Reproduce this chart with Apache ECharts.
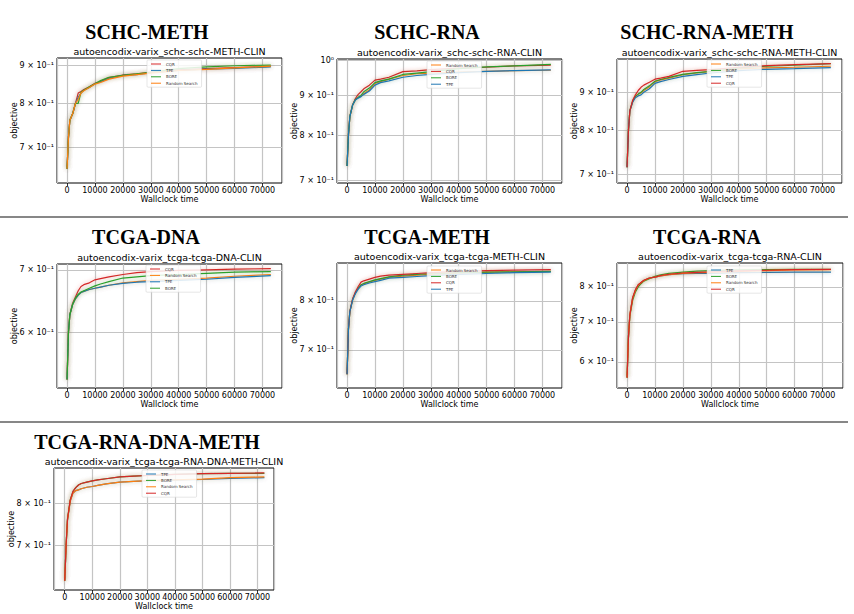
<!DOCTYPE html>
<html>
<head>
<meta charset="utf-8">
<script src="https://cdn.jsdelivr.net/npm/echarts@6/dist/echarts.min.js"></script>
<style>
    html, body {margin: 0; padding: 0; background: #fff;}
    #chart {width: 854px; height: 614px;}
</style>
</head>
<body>
<div id="chart"></div>
<script>
// wallclock time (s)
const time = [0, 500, 1000, 2000, 3000, 4000, 5000, 6000, 8000, 10000, 12000, 15000, 20000, 25000, 30000, 40000, 50000, 60000, 73000];
const timeShort = [0, 500, 1000, 2000, 3000, 4000, 5000, 6000, 8000, 10000, 12000, 15000, 20000, 25000, 30000, 40000, 50000, 60000, 72500];

// SCHC-METH
const schcMethCqr  = [0.655, 0.72, 0.76, 0.775, 0.80, 0.826, 0.830, 0.835, 0.842, 0.851, 0.856, 0.866, 0.873, 0.876, 0.881, 0.887, 0.890, 0.893, 0.896];
const schcMethTpe  = [0.655, 0.72, 0.76, 0.775, 0.80, 0.815, 0.826, 0.833, 0.840, 0.850, 0.855, 0.864, 0.872, 0.874, 0.879, 0.885, 0.889, 0.891, 0.895];
const schcMethBore = [0.655, 0.72, 0.76, 0.775, 0.80, 0.800, 0.828, 0.833, 0.842, 0.850, 0.858, 0.867, 0.872, 0.876, 0.880, 0.890, 0.895, 0.898, 0.900];
const schcMethRs   = [0.655, 0.72, 0.76, 0.775, 0.80, 0.810, 0.826, 0.832, 0.840, 0.849, 0.853, 0.862, 0.870, 0.874, 0.878, 0.885, 0.888, 0.892, 0.897];
const schcMethTicks = [0.7, 0.8, 0.9];

// SCHC-RNA
const schcRnaRs   = [0.73, 0.80, 0.845, 0.875, 0.889, 0.895, 0.898, 0.905, 0.915, 0.933, 0.938, 0.945, 0.955, 0.960, 0.962, 0.965, 0.967, 0.969, 0.970];
const schcRnaCqr  = [0.73, 0.80, 0.845, 0.875, 0.892, 0.903, 0.910, 0.918, 0.928, 0.942, 0.945, 0.950, 0.966, 0.968, 0.972, 0.976, 0.979, 0.983, 0.985];
const schcRnaBore = [0.73, 0.80, 0.845, 0.875, 0.889, 0.895, 0.900, 0.910, 0.920, 0.935, 0.940, 0.945, 0.958, 0.962, 0.966, 0.975, 0.980, 0.983, 0.987];
const schcRnaTpe  = [0.73, 0.80, 0.845, 0.875, 0.888, 0.893, 0.897, 0.903, 0.912, 0.928, 0.935, 0.940, 0.950, 0.955, 0.958, 0.963, 0.967, 0.969, 0.971];
const schcRnaTicks = [0.7, 0.8, 0.9, 1.0];

// SCHC-RNA-METH
const schcRnaMethRs   = [0.715, 0.80, 0.850, 0.875, 0.889, 0.895, 0.898, 0.905, 0.915, 0.930, 0.935, 0.940, 0.950, 0.955, 0.960, 0.967, 0.970, 0.972, 0.975];
const schcRnaMethBore = [0.715, 0.80, 0.850, 0.875, 0.889, 0.895, 0.900, 0.908, 0.918, 0.931, 0.936, 0.942, 0.951, 0.956, 0.960, 0.970, 0.975, 0.978, 0.983];
const schcRnaMethTpe  = [0.715, 0.80, 0.850, 0.873, 0.885, 0.890, 0.893, 0.900, 0.910, 0.925, 0.930, 0.936, 0.945, 0.950, 0.955, 0.962, 0.966, 0.968, 0.971];
const schcRnaMethCqr  = [0.715, 0.80, 0.850, 0.878, 0.893, 0.905, 0.914, 0.920, 0.928, 0.937, 0.940, 0.945, 0.960, 0.963, 0.965, 0.972, 0.977, 0.980, 0.983];
const schcRnaMethTicks = [0.7, 0.8, 0.9];

// TCGA-DNA
const tcgaDnaCqr  = [0.535, 0.60, 0.627, 0.645, 0.655, 0.665, 0.672, 0.675, 0.678, 0.683, 0.685, 0.688, 0.692, 0.695, 0.697, 0.699, 0.700, 0.701, 0.702];
const tcgaDnaRs   = [0.535, 0.60, 0.627, 0.643, 0.652, 0.658, 0.662, 0.664, 0.667, 0.669, 0.671, 0.674, 0.678, 0.680, 0.682, 0.684, 0.686, 0.689, 0.692];
const tcgaDnaTpe  = [0.535, 0.60, 0.627, 0.643, 0.652, 0.658, 0.662, 0.664, 0.667, 0.669, 0.671, 0.674, 0.677, 0.679, 0.680, 0.682, 0.684, 0.687, 0.690];
const tcgaDnaBore = [0.535, 0.60, 0.627, 0.643, 0.653, 0.659, 0.663, 0.665, 0.669, 0.673, 0.676, 0.680, 0.686, 0.688, 0.690, 0.692, 0.694, 0.696, 0.697];
const tcgaDnaTicks = [0.6, 0.7];

// TCGA-METH
const tcgaMethRs   = [0.655, 0.74, 0.777, 0.803, 0.818, 0.828, 0.835, 0.838, 0.842, 0.846, 0.849, 0.853, 0.856, 0.858, 0.860, 0.863, 0.865, 0.866, 0.867];
const tcgaMethBore = [0.655, 0.74, 0.777, 0.803, 0.818, 0.828, 0.836, 0.839, 0.843, 0.847, 0.850, 0.854, 0.858, 0.860, 0.862, 0.864, 0.865, 0.866, 0.867];
const tcgaMethCqr  = [0.655, 0.74, 0.777, 0.805, 0.820, 0.832, 0.842, 0.845, 0.849, 0.853, 0.856, 0.858, 0.860, 0.862, 0.864, 0.867, 0.869, 0.870, 0.871];
const tcgaMethTpe  = [0.655, 0.74, 0.777, 0.802, 0.816, 0.826, 0.833, 0.836, 0.840, 0.843, 0.846, 0.851, 0.853, 0.855, 0.857, 0.860, 0.862, 0.864, 0.865];
const tcgaMethTicks = [0.7, 0.8];

// TCGA-RNA
const tcgaRnaTpe  = [0.565, 0.66, 0.719, 0.767, 0.790, 0.806, 0.813, 0.820, 0.828, 0.831, 0.835, 0.839, 0.842, 0.843, 0.843, 0.845, 0.846, 0.847, 0.847];
const tcgaRnaBore = [0.565, 0.66, 0.715, 0.760, 0.785, 0.800, 0.810, 0.818, 0.826, 0.833, 0.838, 0.843, 0.847, 0.850, 0.852, 0.854, 0.855, 0.856, 0.856];
const tcgaRnaRs   = [0.565, 0.66, 0.719, 0.767, 0.790, 0.806, 0.813, 0.820, 0.828, 0.831, 0.835, 0.839, 0.843, 0.845, 0.846, 0.849, 0.852, 0.854, 0.855];
const tcgaRnaCqr  = [0.565, 0.66, 0.719, 0.768, 0.792, 0.807, 0.814, 0.821, 0.828, 0.831, 0.836, 0.840, 0.844, 0.846, 0.848, 0.851, 0.853, 0.855, 0.856];
const tcgaRnaTicks = [0.6, 0.7, 0.8];

// TCGA-RNA-DNA-METH
const tcgaAllTpe  = [0.625, 0.70, 0.758, 0.805, 0.826, 0.832, 0.834, 0.837, 0.841, 0.843, 0.846, 0.850, 0.855, 0.857, 0.858, 0.860, 0.862, 0.865, 0.867];
const tcgaAllBore = [0.625, 0.70, 0.760, 0.808, 0.830, 0.840, 0.847, 0.851, 0.855, 0.858, 0.861, 0.864, 0.869, 0.871, 0.873, 0.876, 0.878, 0.879, 0.879];
const tcgaAllRs   = [0.625, 0.70, 0.758, 0.805, 0.826, 0.832, 0.834, 0.837, 0.841, 0.843, 0.846, 0.850, 0.855, 0.857, 0.859, 0.861, 0.863, 0.867, 0.869];
const tcgaAllCqr  = [0.625, 0.70, 0.760, 0.808, 0.830, 0.840, 0.847, 0.851, 0.855, 0.858, 0.861, 0.864, 0.869, 0.871, 0.873, 0.876, 0.878, 0.879, 0.880];
const tcgaAllTicks = [0.7, 0.8];

const colors = {'CQR': '#d62728', 'TPE': '#1f77b4', 'BORE': '#2ca02c', 'Random Search': '#ff7f0e'};
const halos = {'CQR': 'rgba(214,39,40,0.35)', 'TPE': 'rgba(31,119,180,0.3)', 'BORE': 'rgba(44,160,44,0.3)', 'Random Search': 'rgba(255,127,14,0.3)'};

// 面板布局: grid = [left, top, width, height], legend = [left, top]
const panels = [
    {title: 'SCHC-METH', sub: 'autoencodix-varix_schc-schc-METH-CLIN', titleX: 147, titleY: 32, x: time,
        lines: [['CQR', schcMethCqr], ['TPE', schcMethTpe], ['BORE', schcMethBore], ['Random Search', schcMethRs]],
        ticks: schcMethTicks, yMin: 0.627, yMax: 0.9196, xMin: -3600, xMax: 77000, grid: [57, 58, 225, 125], legend: [147, 60]},
    {title: 'SCHC-RNA', sub: 'autoencodix-varix_schc-schc-RNA-CLIN', titleX: 427, titleY: 32, x: time,
        lines: [['Random Search', schcRnaRs], ['CQR', schcRnaCqr], ['BORE', schcRnaBore], ['TPE', schcRnaTpe]],
        ticks: schcRnaTicks, yMin: 0.694, yMax: 1.003, xMin: -3600, xMax: 77000, grid: [337, 59, 225, 124], legend: [427, 61]},
    {title: 'SCHC-RNA-METH', sub: 'autoencodix-varix_schc-schc-RNA-METH-CLIN', titleX: 707, titleY: 32, x: time,
        lines: [['Random Search', schcRnaMethRs], ['BORE', schcRnaMethBore], ['TPE', schcRnaMethTpe], ['CQR', schcRnaMethCqr]],
        ticks: schcRnaMethTicks, yMin: 0.681, yMax: 0.997, xMin: -3600, xMax: 77000, grid: [617, 59, 225, 124], legend: [707, 60]},
    {title: 'TCGA-DNA', sub: 'autoencodix-varix_tcga-tcga-DNA-CLIN', titleX: 146, titleY: 237, x: time,
        lines: [['CQR', tcgaDnaCqr], ['Random Search', tcgaDnaRs], ['TPE', tcgaDnaTpe], ['BORE', tcgaDnaBore]],
        ticks: tcgaDnaTicks, yMin: 0.524, yMax: 0.710, xMin: -3600, xMax: 77000, grid: [57, 264, 225, 124], legend: [146, 265]},
    {title: 'TCGA-METH', sub: 'autoencodix-varix_tcga-tcga-METH-CLIN', titleX: 427, titleY: 237, x: time,
        lines: [['Random Search', tcgaMethRs], ['BORE', tcgaMethBore], ['CQR', tcgaMethCqr], ['TPE', tcgaMethTpe]],
        ticks: tcgaMethTicks, yMin: 0.631, yMax: 0.887, xMin: -3600, xMax: 77000, grid: [337, 263, 225, 125], legend: [427, 266]},
    {title: 'TCGA-RNA', sub: 'autoencodix-varix_tcga-tcga-RNA-CLIN', titleX: 707, titleY: 237, x: time,
        lines: [['TPE', tcgaRnaTpe], ['BORE', tcgaRnaBore], ['Random Search', tcgaRnaRs], ['CQR', tcgaRnaCqr]],
        ticks: tcgaRnaTicks, yMin: 0.543, yMax: 0.877, xMin: -3600, xMax: 77300, grid: [617, 263, 226, 125], legend: [707, 266]},
    {title: 'TCGA-RNA-DNA-METH', sub: 'autoencodix-varix_tcga-tcga-RNA-DNA-METH-CLIN', titleX: 147, titleY: 442, x: timeShort,
        lines: [['TPE', tcgaAllTpe], ['BORE', tcgaAllBore], ['Random Search', tcgaAllRs], ['CQR', tcgaAllCqr]],
        ticks: tcgaAllTicks, yMin: 0.607, yMax: 0.894, xMin: -3900, xMax: 76000, grid: [54, 468, 220, 122], legend: [142, 470]}
];

function tickLabel(v) {
    return v >= 1 ? '10\u2070' : Math.round(v * 10) + ' \u00d7 10\u207b\u00b9';
}

const font = 'DejaVu Sans';
let grids = [], xAxes = [], yAxes = [], series = [], legends = [], graphics = [];

panels.forEach(function (p, i) {
    const [gl, gt, gw, gh] = p.grid;
    grids.push({left: gl, top: gt, width: gw, height: gh, show: true, borderColor: '#000', borderWidth: 1, backgroundColor: 'transparent', containLabel: false});
    xAxes.push({
        type: 'value', gridIndex: i, min: p.xMin, max: p.xMax, splitNumber: 8,
        name: 'Wallclock time', nameLocation: 'middle', nameGap: 12,
        nameTextStyle: {fontSize: 8, color: '#000', fontFamily: font},
        axisLine: {show: false},
        axisTick: {show: true, length: 3, lineStyle: {color: '#000', width: 0.8}},
        axisLabel: {fontSize: 8, color: '#000', margin: 3, fontFamily: font, showMinLabel: false, showMaxLabel: false,
            formatter: function (value) { return String(value); }},
        splitLine: {show: true, lineStyle: {color: '#c4c4c4', width: 1.2}}
    });
    yAxes.push({
        type: 'log', logBase: 10, gridIndex: i, min: p.yMin, max: p.yMax,
        name: 'objective', nameLocation: 'middle', nameGap: 39,
        nameTextStyle: {fontSize: 8, color: '#000', fontFamily: font},
        axisLine: {show: false}, axisTick: {show: false}, axisLabel: {show: false}, splitLine: {show: false}
    });
    p.lines.forEach(function (l, j) {
        let s = {
            type: 'line', name: l[0], xAxisIndex: i, yAxisIndex: i,
            data: p.x.map((t, k) => [t, l[1][k]]),
            showSymbol: false, symbol: 'none', z: 2 + j,
            lineStyle: {width: 1.2, color: colors[l[0]], shadowColor: halos[l[0]], shadowBlur: 4},
            itemStyle: {color: colors[l[0]]}
        };
        if (j === 0) {
            // y轴网格线和刻度标签
            s.markLine = {
                silent: true, symbol: 'none', z: 1, animation: false,
                lineStyle: {color: '#c4c4c4', width: 1.2, type: 'solid', shadowBlur: 0},
                label: {position: 'start', distance: 3, fontSize: 8, color: '#000', fontFamily: font},
                data: p.ticks.map(v => ({yAxis: v, label: {formatter: tickLabel(v)}}))
            };
        }
        series.push(s);
    });
    legends.push({
        left: p.legend[0], top: p.legend[1], orient: 'vertical', z: 20,
        data: p.lines.map(l => l[0]), icon: 'rect',
        itemWidth: 10, itemHeight: 1, itemGap: 2.4, padding: [2, 4],
        textStyle: {fontSize: 4, color: '#333', fontFamily: font},
        backgroundColor: 'rgba(255,255,255,0.85)', borderColor: '#ccc', borderWidth: 0.5, borderRadius: 1
    });
    graphics.push({
        type: 'text', x: p.titleX, y: p.titleY,
        style: {text: p.title, font: 'bold 20px "Liberation Serif"', fill: '#000',
            align: 'center', verticalAlign: 'middle', textAlign: 'center', textVerticalAlign: 'middle'}
    });
    graphics.push({
        type: 'text', x: gl + gw / 2, y: gt - 6.5,
        style: {text: p.sub, font: '9.5px "DejaVu Sans"', fill: '#000',
            align: 'center', verticalAlign: 'middle', textAlign: 'center', textVerticalAlign: 'middle'}
    });
});

// 分隔线
[217, 422].forEach(function (y) {
    graphics.push({type: 'line', shape: {x1: 0, y1: y, x2: 848, y2: y}, style: {stroke: '#111', lineWidth: 1.2}});
});

let chart = echarts.init(document.getElementById('chart'), null, {renderer: 'svg'});
chart.setOption({
    animation: false,
    textStyle: {fontFamily: font},
    grid: grids,
    xAxis: xAxes,
    yAxis: yAxes,
    legend: legends,
    series: series,
    graphic: graphics
});
</script>
</body>
</html>
